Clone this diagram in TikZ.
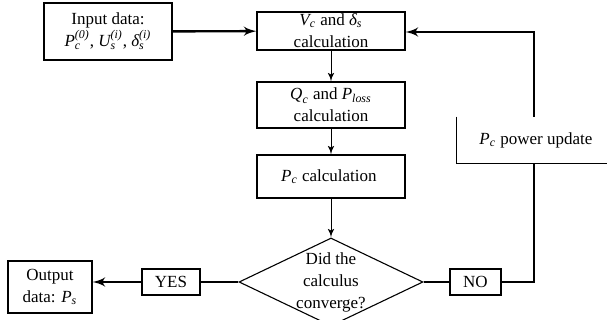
\documentclass[tikz,border=0pt]{standalone}
\usepackage{amsmath}
\usepackage{fontspec}
\setmainfont{Liberation Serif}
\usepackage{tikz}
\usetikzlibrary{arrows,positioning,shapes.geometric}
\tikzstyle{block} = [rectangle, draw, line width=0.55pt, align=center, inner sep=0pt]
\tikzstyle{decision} = [diamond, draw, line width=0.55pt, inner sep=0pt]
\tikzstyle{line} = [draw, line width=0.5pt, color=black, -latex']
\tikzstyle{thickline} = [draw, line width=1.2pt, color=black]
\newcommand{\iv}[1]{\textit{#1}}

\begin{document}
\begin{tikzpicture}[x=0.5pt, y=-0.5pt, font=\fontsize{8.5}{11}\selectfont]
  \useasboundingbox (0,0) rectangle (607,320);
  \node [block, minimum width=64pt, minimum height=28.5pt] (in) at (108,31.5) {
    Input data:\\ $\iv{P}_{\iv{c}}^{\iv{(0)}}$,\ $\iv{U}_{\iv{s}}^{\iv{(i)}}$,\ $\iv{δ}_{\iv{s}}^{\iv{(i)}}$
  };
  \node [block, minimum width=74pt, minimum height=19pt] (vc) at (331,31) {
    $\iv{V}_{\iv{c}}$ and $\iv{δ}_{\iv{s}}$\\ calculation
  };
  \node [block, minimum width=74pt, minimum height=23pt] (qc) at (331,105) {
    $\iv{Q}_{\iv{c}}$ and $\iv{P}_{\iv{loss}}$\\ calculation
  };
  \node [block, minimum width=74pt, minimum height=21.5pt] (pc) at (331,176.5) {
    $\iv{P}_{\iv{c}}$ calculation
  };
  \node [decision, minimum width=92pt, minimum height=44pt,
    label={[align=center]center:Did the\\ calculus\\ converge?}] (dec) at (331,282) {};
  \node [block, minimum width=29pt, minimum height=13pt] (yes) at (171,282) {YES};
  \node [block, minimum width=25.5pt, minimum height=13pt] (no) at (475.5,282) {NO};
  \node [block, minimum width=42pt, minimum height=26pt] (out) at (50,287) {
    Output\\ data: $\iv{P}_{\iv{s}}$
  };
  \node [align=center, minimum width=75pt, minimum height=23pt, inner sep=0pt] (upd) at (532,140) {
    \hspace*{6pt}$\iv{P}_{\iv{c}}$ power update
  };
  \draw [line width=0.55pt] (upd.north west) -- (upd.south west) -- (upd.south east);
  \coordinate (turn) at (534,32);

  \path [line, line width=1.2pt] (in) -- (vc);
  \path [line] (vc) -- (qc);
  \path [line] (qc) -- (pc);
  \path [line] (pc) -- (dec);
  \path [thickline] (dec) -- (yes);
  \path [line, line width=1.2pt] (yes) -- (out.east |- yes);
  \path [thickline] (dec) -- (no);
  \path [thickline] (no.east) -| (upd.south -| turn);
  \path [line, line width=1.2pt] (upd.north -| turn) -- (turn) -- (vc.east |- turn);
\end{tikzpicture}
\end{document}
